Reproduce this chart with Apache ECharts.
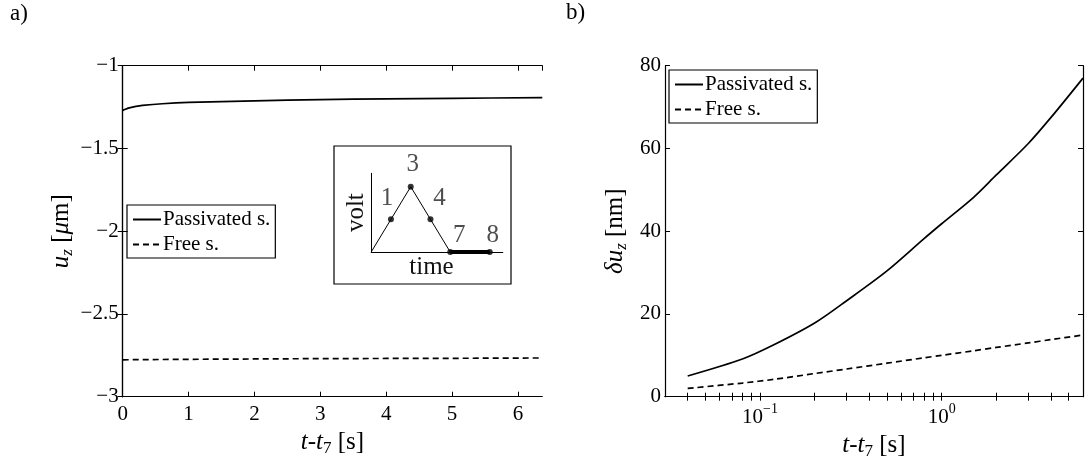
<!DOCTYPE html>
<html>
<head>
<meta charset="utf-8">
<script src="https://cdn.jsdelivr.net/npm/echarts@6/dist/echarts.min.js"></script>
<style>
  html, body { margin: 0; padding: 0; background: #fff; }
  #chart { width: 1085px; height: 469px; }
</style>
</head>
<body>
<div id="chart"></div>
<script>
// panel a) u_z against t-t7, linear time axis
const tPassA = [0, 0.05, 0.1, 0.2, 0.3, 0.6, 1, 2, 3, 4, 5, 6.37];
const passA = [-1.27, -1.262, -1.255, -1.246, -1.24, -1.23, -1.222, -1.212, -1.205, -1.2, -1.197, -1.193];
const tFreeA = [0, 1, 2, 3, 4, 5, 6.37];
const freeA = [-2.777, -2.774, -2.772, -2.77, -2.769, -2.768, -2.766];

// panel b) delta u_z against t-t7, log time axis
const tB = [0.04, 0.08, 0.12, 0.2, 0.3, 0.5, 0.8, 1, 1.5, 2, 3, 4, 6];
const passB = [5, 9.1, 12.6, 17.8, 23.2, 30.4, 38.2, 41.8, 48.2, 53.6, 61.2, 67.5, 77];
const freeB = [2.0, 3.3, 4.2, 5.6, 6.7, 8.1, 9.4, 10.0, 11.1, 11.9, 13.0, 13.8, 14.9];
const logMajor = [0.1, 1];
const logTicks = [0.04, 0.05, 0.06, 0.07, 0.08, 0.09, 0.1, 0.2, 0.3, 0.4, 0.5, 0.6, 0.7, 0.8, 0.9, 1, 2, 3, 4, 5];

// inset: voltage cycle sketch
const rampT = [0, 0.5, 1, 1.5, 2];
const rampV = [0, 0.5, 1, 0.5, 0];
const holdT = [2, 3];
const holdV = [0, 0];
const stepT = [0.5, 1, 1.5, 2, 3];
const stepV = [0.5, 1, 0.5, 0, 0];
const stepNames = ['1', '3', '4', '7', '8'];
const stepOffsets = [[-4, 0], [2, -2], [9, 0], [9, 4], [3, 4]];

const FONT = "'Liberation Serif', 'Times New Roman', serif";
const zip = (xs, ys) => xs.map((x, i) => [x, ys[i]]);
const minus = v => (v < 0 ? '\u2212' : '') + Math.abs(v);

const chart = echarts.init(document.getElementById('chart'), null, { renderer: 'canvas' });

const frameLine = { show: true, lineStyle: { color: '#000', width: 1.2 } };
const tickIn = { show: true, inside: true, length: 5, lineStyle: { color: '#000', width: 1 } };
const labelBase = { color: '#000', fontFamily: FONT, fontSize: 21 };
const nameRich = {
  i: { fontFamily: FONT, fontSize: 25, fontStyle: 'italic', color: '#000' },
  sub: { fontFamily: FONT, fontSize: 17, fontStyle: 'italic', color: '#000', padding: [12, 0, 0, 0] },
  subr: { fontFamily: FONT, fontSize: 17, color: '#000', padding: [12, 0, 0, 0] }
};
const nameStyle = { fontFamily: FONT, fontSize: 25, color: '#000', rich: nameRich };

function blankAxis(extra) {
  return Object.assign({
    axisLine: frameLine, axisTick: tickIn, axisLabel: { show: false },
    splitLine: { show: false }
  }, extra);
}

function legendAt(left, top) {
  return {
    data: ['Passivated s.', 'Free s.'], orient: 'vertical', left: left, top: top,
    borderColor: '#000', borderWidth: 1.2, padding: [4, 5, 3, 5], itemGap: 4,
    itemWidth: 28, itemHeight: 10, selectedMode: false,
    itemStyle: { opacity: 0 },
    textStyle: { fontFamily: FONT, fontSize: 21, color: '#000', padding: [0, 0, 0, -3] }
  };
}

const option = {
  animation: false,
  backgroundColor: '#fff',
  grid: [
    { left: 122.7, top: 65.7, width: 419.6, height: 331 },
    { left: 665, top: 65.7, width: 418, height: 331 },
    { left: 371.2, top: 173.3, width: 131.6, height: 78.7 }
  ],
  xAxis: [
    {
      type: 'value', gridIndex: 0, position: 'bottom', min: 0, max: 6.37, interval: 1,
      axisLine: frameLine, axisTick: tickIn, splitLine: { show: false },
      axisLabel: Object.assign({ margin: 7, showMaxLabel: false }, labelBase),
      name: '{i|t}-{i|t}{subr|7} [s]', nameLocation: 'middle', nameGap: 31, nameTextStyle: nameStyle
    },
    blankAxis({ type: 'value', gridIndex: 0, position: 'top', min: 0, max: 6.37, interval: 1 }),
    {
      type: 'log', logBase: 10, gridIndex: 1, position: 'bottom', min: 0.03, max: 6,
      axisLine: frameLine, splitLine: { show: false },
      axisTick: Object.assign({}, tickIn, { length: 4, customValues: logTicks }),
      axisLabel: Object.assign({
        margin: 6, customValues: logMajor,
        formatter: v => {
          const e = Math.round(Math.log10(v));
          return '{b|10}{s|' + minus(e) + '}';
        },
        rich: {
          b: { fontFamily: FONT, fontSize: 21, color: '#000' },
          s: { fontFamily: FONT, fontSize: 14, color: '#000', padding: [0, 0, 16, 0] }
        }
      }, labelBase),
      name: '{i|t}-{i|t}{subr|7} [s]', nameLocation: 'middle', nameGap: 31, nameTextStyle: nameStyle
    },
    blankAxis({ type: 'log', logBase: 10, gridIndex: 1, position: 'top', min: 0.03, max: 6,
      axisTick: Object.assign({}, tickIn, { length: 4, customValues: logTicks }) }),
    {
      type: 'value', gridIndex: 2, min: 0, max: 3.33, z: 5,
      axisLine: { show: true, lineStyle: { color: '#000', width: 1 } },
      axisTick: { show: false }, axisLabel: { show: false }, splitLine: { show: false },
      name: 'time', nameLocation: 'middle', nameGap: 3,
      nameTextStyle: { fontFamily: FONT, fontSize: 25, color: '#111', padding: [0, 11, 0, 0] }
    }
  ],
  yAxis: [
    {
      type: 'value', gridIndex: 0, position: 'left', min: -3, max: -1, interval: 0.5,
      axisLine: frameLine, axisTick: tickIn, splitLine: { show: false },
      axisLabel: Object.assign({ margin: 4, formatter: minus }, labelBase),
      name: '{i|u}{sub|z} [{i|\u03bc}m]', nameLocation: 'middle', nameGap: 47, nameTextStyle: nameStyle
    },
    blankAxis({ type: 'value', gridIndex: 0, position: 'right', min: -3, max: -1, interval: 0.5 }),
    {
      type: 'value', gridIndex: 1, position: 'left', min: 0, max: 80, interval: 20,
      axisLine: frameLine, axisTick: tickIn, splitLine: { show: false },
      axisLabel: Object.assign({ margin: 4 }, labelBase),
      name: '{i|\u03b4u}{sub|z} [nm]', nameLocation: 'middle', nameGap: 35, nameTextStyle: nameStyle
    },
    blankAxis({ type: 'value', gridIndex: 1, position: 'right', min: 0, max: 80, interval: 20 }),
    {
      type: 'value', gridIndex: 2, min: 0, max: 1.205, z: 5,
      axisLine: { show: true, lineStyle: { color: '#000', width: 1 } },
      axisTick: { show: false }, axisLabel: { show: false }, splitLine: { show: false },
      name: 'volt', nameLocation: 'middle', nameGap: 2,
      nameTextStyle: { fontFamily: FONT, fontSize: 25, color: '#111' }
    }
  ],
  legend: [legendAt(127, 205), legendAt(669, 70)],
  graphic: [
    { type: 'text', left: 10, top: 2, style: { text: 'a)', font: '23px ' + FONT, fill: '#000' } },
    { type: 'text', left: 566, top: 1, style: { text: 'b)', font: '23px ' + FONT, fill: '#000' } },
    { type: 'rect', z: 1, shape: { x: 334, y: 146, width: 177, height: 138 },
      style: { fill: 'none', stroke: '#000', lineWidth: 1.2 } }
  ],
  series: [
    {
      name: 'Passivated s.', type: 'line', xAxisIndex: 0, yAxisIndex: 0, data: zip(tPassA, passA),
      symbol: 'none', smooth: 0.3, lineStyle: { color: '#000', width: 1.7 }, itemStyle: { color: '#000' }
    },
    {
      name: 'Free s.', type: 'line', xAxisIndex: 0, yAxisIndex: 0, data: zip(tFreeA, freeA),
      symbol: 'none', lineStyle: { color: '#000', width: 1.7, type: [6, 4] }, itemStyle: { color: '#000' }
    },
    {
      name: 'Passivated s.', type: 'line', xAxisIndex: 2, yAxisIndex: 2, data: zip(tB, passB),
      symbol: 'none', smooth: 0.3, lineStyle: { color: '#000', width: 1.7 }, itemStyle: { color: '#000' }
    },
    {
      name: 'Free s.', type: 'line', xAxisIndex: 2, yAxisIndex: 2, data: zip(tB, freeB),
      symbol: 'none', smooth: 0.3, lineStyle: { color: '#000', width: 1.7, type: [6, 4] }, itemStyle: { color: '#000' }
    },
    {
      type: 'line', xAxisIndex: 4, yAxisIndex: 4, data: zip(rampT, rampV), z: 6,
      symbol: 'none', lineStyle: { color: '#000', width: 1 }
    },
    {
      type: 'line', xAxisIndex: 4, yAxisIndex: 4, data: zip(holdT, holdV), z: 6,
      symbol: 'none', lineStyle: { color: '#000', width: 4 }
    },
    {
      type: 'scatter', xAxisIndex: 4, yAxisIndex: 4, z: 7, symbolSize: 6,
      itemStyle: { color: '#000' },
      data: zip(stepT, stepV).map((p, i) => ({
        value: p,
        label: {
          show: true, position: 'top', offset: stepOffsets[i], formatter: stepNames[i],
          fontFamily: FONT, fontSize: 25, color: '#222'
        }
      }))
    }
  ]
};

chart.setOption(option);
</script>
</body>
</html>
